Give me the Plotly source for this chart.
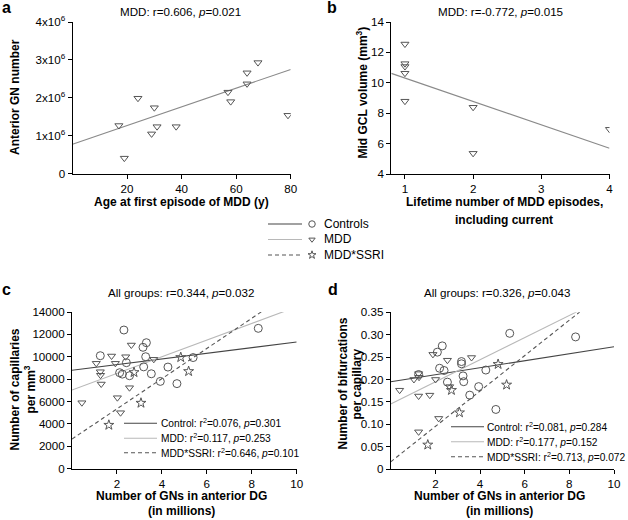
import plotly.graph_objects as go

# ---------------- data ----------------
# Panel a: MDD, age at first episode vs anterior GN number
a_age = [17, 19, 24, 30, 29, 31, 38, 57, 58, 64, 64, 68, 79]
a_gn = [1.27e6, 0.41e6, 1.99e6, 1.74e6, 1.05e6, 1.24e6, 1.24e6, 2.15e6, 1.90e6, 2.66e6, 2.37e6, 2.93e6, 1.54e6]
a_fit_x = [0, 80]
a_fit_y = [0.776e6, 2.75e6]

# Panel b: MDD, lifetime number of episodes vs mid GCL volume
b_episodes = [1, 1, 1, 1, 1, 2, 2, 4]
b_gcl = [12.55, 11.26, 11.07, 10.63, 8.79, 8.39, 5.36, 6.94]
b_fit_x = [0.8, 4]
b_fit_y = [10.62, 5.69]

# Panel c: GNs (millions) vs capillaries per mm3
c_ctrl_gn = [2.31, 1.26, 3.16, 3.31, 3.28, 2.42, 3.19, 2.12, 2.24, 2.56, 3.53, 4.27, 3.93, 4.67, 5.39, 8.29]
c_ctrl_cap = [12390, 10095, 10845, 11256, 10005, 9470, 9100, 8576, 8450, 8308, 8480, 9080, 7800, 7600, 9930, 12540]
c_mdd_gn = [2.64, 1.08, 1.76, 2.39, 1.93, 1.26, 1.27, 1.30, 2.56, 3.64, 2.02, 0.44, 2.16]
c_mdd_cap = [11050, 9415, 10068, 10005, 9415, 8665, 8350, 7566, 7236, 9773, 6343, 5896, 5002]
c_ssri_gn = [2.76, 4.84, 5.19, 3.07, 1.64]
c_ssri_cap = [8610, 9950, 8700, 5870, 3900]
c_fit_ctrl_x = [0, 10]
c_fit_ctrl_y = [8790, 11320]
c_fit_mdd_x = [0, 9.48]
c_fit_mdd_y = [7030, 14080]
c_fit_ssri_x = [0, 8.44]
c_fit_ssri_y = [2650, 14030]

# Panel d: GNs (millions) vs bifurcations per capillary
d_ctrl_gn = [2.31, 2.09, 3.17, 3.17, 2.19, 2.39, 4.26, 1.25, 3.24, 3.27, 2.54, 3.94, 3.54, 4.71, 5.33, 8.28]
d_ctrl_bif = [0.275, 0.261, 0.240, 0.235, 0.225, 0.220, 0.221, 0.211, 0.208, 0.195, 0.194, 0.184, 0.165, 0.133, 0.303, 0.295]
d_mdd_gn = [1.89, 2.54, 3.62, 1.25, 1.27, 1.04, 2.01, 2.64, 0.40, 1.25, 1.75, 2.15, 1.25]
d_mdd_bif = [0.256, 0.243, 0.249, 0.213, 0.205, 0.200, 0.200, 0.184, 0.176, 0.163, 0.165, 0.113, 0.083]
d_ssri_gn = [2.72, 4.81, 5.19, 3.08, 1.66]
d_ssri_bif = [0.176, 0.234, 0.188, 0.126, 0.054]
d_fit_ctrl_x = [0, 10]
d_fit_ctrl_y = [0.195, 0.273]
d_fit_mdd_x = [0, 8.33]
d_fit_mdd_y = [0.145, 0.351]
d_fit_ssri_x = [0, 8.47]
d_fit_ssri_y = [0.016, 0.351]

group_names = ["Controls", "MDD", "MDD*SSRI"]
c_legend = ["Control: r<sup>2</sup>=0.076, <i>p</i>=0.301",
            "MDD: r<sup>2</sup>=0.117, <i>p</i>=0.253",
            "MDD*SSRI: r<sup>2</sup>=0.646, <i>p</i>=0.101"]
d_legend = ["Control: r<sup>2</sup>=0.081, <i>p</i>=0.284",
            "MDD: r<sup>2</sup>=0.177, <i>p</i>=0.152",
            "MDD*SSRI: r<sup>2</sup>=0.713, <i>p</i>=0.072"]

# ---------------- styles ----------------
W, H = 628, 520
FONT = "Liberation Sans, Arial, sans-serif"
MK = "#555555"
CTRL_LINE = dict(color="#444444", width=1.1)
MDD_LINE = dict(color="#b8b8b8", width=1.1)
SSRI_LINE = dict(color="#555555", width=1.1, dash="4px,3px")
FIT_AB = dict(color="#8a8a8a", width=1.1)

def mk(symbol, size):
    return dict(symbol=symbol, size=size, color=MK, line=dict(color=MK, width=1))

TRI = mk("triangle-down-open", 7)
CIR = mk("circle-open", 8)
STAR = mk("star-open", 7.5)

def px_dom_x(a, b):
    return [a / W, b / W]

def px_dom_y(top, bottom):
    return [1 - bottom / H, 1 - top / H]

fig = go.Figure()

def sc(x, y, ax, **kw):
    fig.add_trace(go.Scatter(x=x, y=y, xaxis="x" + ax, yaxis="y" + ax,
                             showlegend=False, hoverinfo="skip", **kw))

# panel a
sc(a_fit_x, a_fit_y, "", mode="lines", line=FIT_AB)
sc(a_age, a_gn, "", mode="markers", marker=TRI)
# panel b
sc(b_fit_x, b_fit_y, "2", mode="lines", line=FIT_AB)
sc(b_episodes, b_gcl, "2", mode="markers", marker=TRI)
# panel c
sc(c_fit_ctrl_x, c_fit_ctrl_y, "3", mode="lines", line=CTRL_LINE)
sc(c_fit_mdd_x, c_fit_mdd_y, "3", mode="lines", line=MDD_LINE)
sc(c_fit_ssri_x, c_fit_ssri_y, "3", mode="lines", line=SSRI_LINE)
sc(c_ctrl_gn, c_ctrl_cap, "3", mode="markers", marker=CIR)
sc(c_mdd_gn, c_mdd_cap, "3", mode="markers", marker=TRI)
sc(c_ssri_gn, c_ssri_cap, "3", mode="markers", marker=STAR)
# panel d
sc(d_fit_ctrl_x, d_fit_ctrl_y, "4", mode="lines", line=CTRL_LINE)
sc(d_fit_mdd_x, d_fit_mdd_y, "4", mode="lines", line=MDD_LINE)
sc(d_fit_ssri_x, d_fit_ssri_y, "4", mode="lines", line=SSRI_LINE)
sc(d_ctrl_gn, d_ctrl_bif, "4", mode="markers", marker=CIR)
sc(d_mdd_gn, d_mdd_bif, "4", mode="markers", marker=TRI)
sc(d_ssri_gn, d_ssri_bif, "4", mode="markers", marker=STAR)

# ---------- legends drawn on a full-page overlay axis (pixel coords) ----------
styles = [CTRL_LINE, MDD_LINE, SSRI_LINE]
marks = [CIR, TRI, STAR]
annotations = []

def txt(x, y, s, size=12, anchor="left", bold=False, **kw):
    if bold:
        s = "<b>" + s + "</b>"
    annotations.append(dict(x=x / W, y=1 - y / H, xref="paper", yref="paper",
                            text=s, showarrow=False, xanchor=anchor, yanchor="middle",
                            font=dict(family=FONT, size=size, color="black"), **kw))

mid_rows = [224, 239.5, 255]
for i, yy in enumerate(mid_rows):
    sc([268, 302], [yy, yy], "5", mode="lines", line=styles[i])
    sc([312], [yy], "5", mode="markers", marker=dict(marks[i], size=marks[i]["size"] - 1.5))
    txt(322, yy, group_names[i], size=12)

for rows, x0, x1, xt, labels in [([423.3, 438.3, 452.7], 124, 157, 159, c_legend),
                                  ([426.7, 441.7, 456.7], 451, 484, 485, d_legend)]:
    for i, yy in enumerate(rows):
        sc([x0, x1], [yy, yy], "5", mode="lines", line=styles[i])
        txt(xt, yy, labels[i], size=10.2)

# ---------- axes ----------
def axis(dom, rng, tickvals, ticktext, anchor):
    return dict(domain=dom, range=rng, tickvals=tickvals, ticktext=ticktext,
                showline=True, linecolor="black", linewidth=1, ticks="outside",
                ticklen=4, tickwidth=1, tickcolor="black", showgrid=False,
                zeroline=False, anchor=anchor, fixedrange=True, automargin=False,
                tickfont=dict(family=FONT, size=11.6, color="black"))

layout = dict(
    width=W, height=H, margin=dict(l=0, r=0, t=0, b=0, pad=0, autoexpand=False),
    paper_bgcolor="white", plot_bgcolor="rgba(0,0,0,0)", showlegend=False,
    font=dict(family=FONT, color="black"),
    xaxis=axis(px_dom_x(72.5, 290.7), [0, 80], [20, 40, 60, 80], ["20", "40", "60", "80"], "y"),
    yaxis=axis(px_dom_y(22, 173.7), [0, 4e6], [0, 1e6, 2e6, 3e6, 4e6],
               ["0"] + ["%dx10<sup>6</sup>" % k for k in (1, 2, 3, 4)], "x"),
    xaxis2=axis(px_dom_x(391.3, 609.5), [0.8, 4], [1, 2, 3, 4], ["1", "2", "3", "4"], "y2"),
    yaxis2=axis(px_dom_y(22, 174), [4, 14], [4, 6, 8, 10, 12, 14],
                ["4", "6", "8", "10", "12", "14"], "x2"),
    xaxis3=axis(px_dom_x(72, 296.7), [0, 10], [2, 4, 6, 8, 10], ["2", "4", "6", "8", "10"], "y3"),
    yaxis3=axis(px_dom_y(312, 468.7), [0, 14000], list(range(0, 14001, 2000)),
                [str(v) for v in range(0, 14001, 2000)], "x3"),
    xaxis4=axis(px_dom_x(390.7, 614), [0, 10], [2, 4, 6, 8, 10], ["2", "4", "6", "8", "10"], "y4"),
    yaxis4=axis(px_dom_y(312.3, 469), [0, 0.35], [0, 0.05, 0.1, 0.15, 0.2, 0.25, 0.3, 0.35],
                ["0", "0.05", "0.10", "0.15", "0.20", "0.25", "0.30", "0.35"], "x4"),
    xaxis5=dict(domain=[0, 1], range=[0, W], visible=False, anchor="y5", fixedrange=True),
    yaxis5=dict(domain=[0, 1], range=[H, 0], visible=False, anchor="x5", fixedrange=True),
)

# titles
txt(180, 11, "MDD: r=0.606, <i>p</i>=0.021", size=11.6, anchor="center")
txt(500, 11, "MDD: r=-0.772, <i>p</i>=0.015", size=11.6, anchor="center")
txt(181, 292, "All groups: r=0.344, <i>p</i>=0.032", size=11.6, anchor="center")
txt(497, 292, "All groups: r=0.326, <i>p</i>=0.043", size=11.6, anchor="center")
# panel letters
txt(0, 8, "a", size=16, bold=True)
txt(325, 8, "b", size=16, bold=True)
txt(0, 289, "c", size=16, bold=True)
txt(326, 289, "d", size=16, bold=True)
# x titles
txt(181.5, 202, "Age at first episode of MDD (y)", size=12, anchor="center", bold=True)
txt(504, 202, "Lifetime number of MDD episodes,", size=12, anchor="center", bold=True)
txt(504, 219.5, "including current", size=12, anchor="center", bold=True)
for cx in (181.5, 499):
    txt(cx, 495.5, "Number of GNs in anterior DG", size=12, anchor="center", bold=True)
    txt(cx, 511, "(in millions)", size=12, anchor="center", bold=True)
# y titles
txt(15, 97, "Anterior GN number", size=12, anchor="center", bold=True, textangle=-90)
txt(361, 92.5, "Mid GCL volume (mm<sup>3</sup>)", size=12, anchor="center", bold=True, textangle=-90)
txt(14.5, 390, "Number of capillaries", size=12, anchor="center", bold=True, textangle=-90)
txt(29.5, 390, "per mm<sup>3</sup>", size=12, anchor="center", bold=True, textangle=-90)
txt(342.5, 384, "Number of bifurcations", size=12, anchor="center", bold=True, textangle=-90)
txt(356.5, 384, "per capillary", size=12, anchor="center", bold=True, textangle=-90)

layout["annotations"] = annotations
fig.update_layout(**layout)
fig.write_html("out.html", config={"displayModeBar": False},
               post_script="document.body.style.margin='0';")
